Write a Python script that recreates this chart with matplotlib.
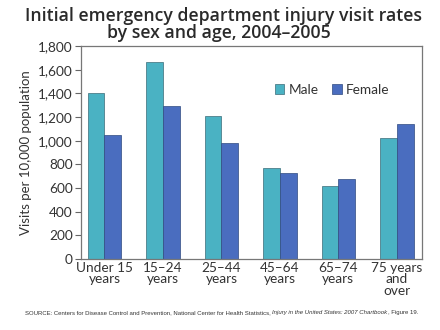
import numpy as np
import matplotlib
matplotlib.use("Agg")
import matplotlib.pyplot as plt

plt.rcParams['font.family'] = ['Lato', 'DejaVu Sans']

# injury visit rates per 10,000 population, 2004-2005
age_groups = ["Under 15\nyears", "15\u201324\nyears", "25\u201344\nyears",
              "45\u201364\nyears", "65\u201374\nyears", "75 years\nand\nover"]
male = [1400, 1662, 1208, 772, 620, 1020]
female = [1045, 1290, 978, 727, 676, 1138]

male_color = "#4ab2c3"
female_color = "#4a6dbf"
text_color = "#333333"

fig = plt.figure(figsize=(4.4, 3.3), dpi=100)
ax = fig.add_axes([81 / 440, 1 - 259 / 330, 341 / 440, 213 / 330])

x = np.arange(len(age_groups))
w = 0.285
ax.bar(x - w / 2, male, w, color=male_color, edgecolor="#3a6b78", linewidth=0.5, label="Male")
ax.bar(x + w / 2, female, w, color=female_color, edgecolor="#2f4a80", linewidth=0.5, label="Female")

ax.set_xlim(-0.4, 5.43)
ax.set_ylim(0, 1800)
ax.set_yticks(range(0, 1801, 200))
ax.set_yticklabels([f"{v:,}" for v in range(0, 1801, 200)], fontsize=9.8, color=text_color)
ax.set_xticks(x)
ax.set_xticklabels(age_groups, fontsize=9.8, color=text_color, linespacing=0.95)
ax.tick_params(axis="x", length=0, pad=2)
ax.tick_params(axis="y", length=4, width=0.8, color="#666666", pad=2)
for s in ax.spines.values():
    s.set_color("#777777")
    s.set_linewidth(0.9)

ax.set_ylabel("Visits per 10,000 population", fontsize=9.5, color=text_color, labelpad=4)

ax.legend(loc="upper right", bbox_to_anchor=(0.94, 0.88), frameon=False, ncol=2,
          fontsize=9.8, handlelength=0.7, handleheight=0.7, handletextpad=0.3,
          columnspacing=1.0, labelcolor=text_color)

# two-line title, each line placed on its own so the short second line stays compact
title_kw = dict(ha="center", va="baseline", fontsize=12.7, fontweight="semibold",
                color="#2a2a2a", family=["Open Sans", "DejaVu Sans"])
fig.text(223 / 440, 1 - 21 / 330, "Initial emergency department injury visit rates", **title_kw)
fig.text(219 / 440, 1 - 38 / 330, "by sex and age, 2004\u20132005", **title_kw)

# source line with italic book title
parts = [("SOURCE: Centers for Disease Control and Prevention, National Center for Health Statistics, ", "normal"),
         ("Injury in the United States: 2007 Chartbook", "italic"),
         (", Figure 19.", "normal")]
fig.canvas.draw()
renderer = fig.canvas.get_renderer()
xpos = 25 / 440
for txt, style in parts:
    t = fig.text(xpos, 1 - 314 / 330, txt, fontsize=4.3, style=style, color=text_color,
                 ha="left", va="baseline", family=["Liberation Sans", "DejaVu Sans"])
    bb = t.get_window_extent(renderer)
    xpos += bb.width / fig.bbox.width

fig.savefig("out.png", dpi=100)
